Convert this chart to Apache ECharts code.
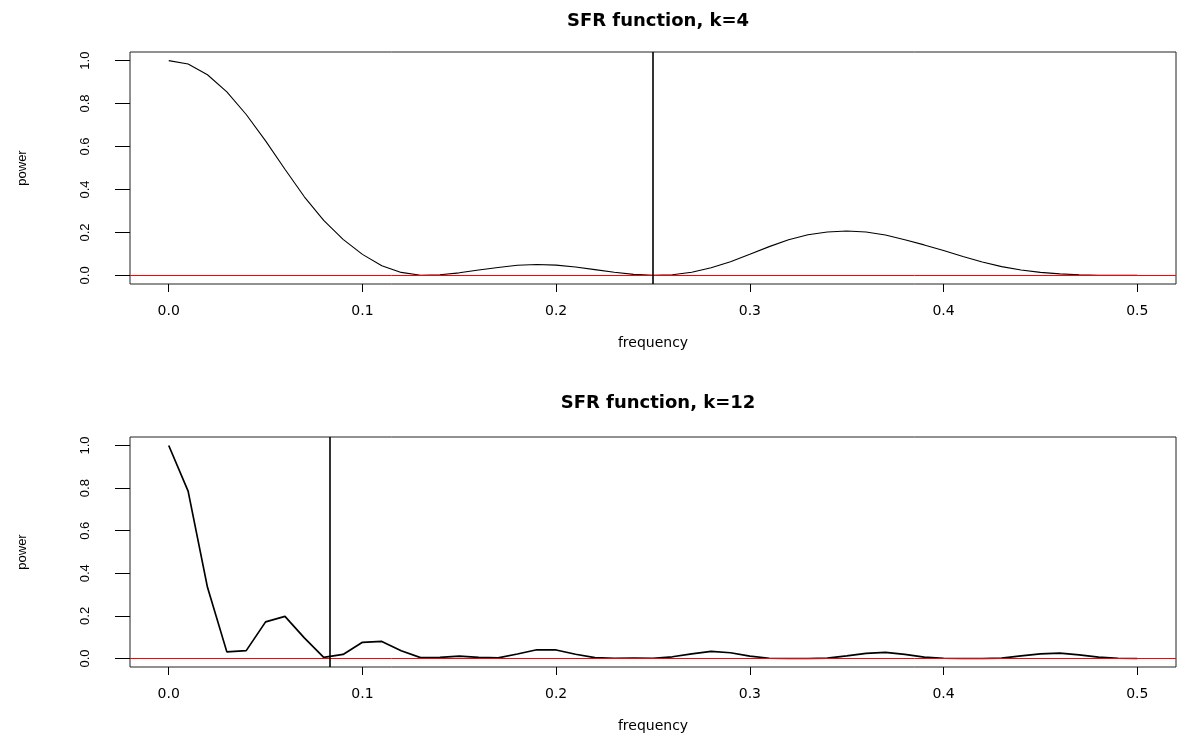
<!DOCTYPE html>
<html>
<head>
<meta charset="utf-8">
<title>SFR function</title>
<script src="https://cdn.jsdelivr.net/npm/echarts@6/dist/echarts.min.js"></script>
<style>
  html, body { margin: 0; padding: 0; background: #fff; }
  #chart { width: 1179px; height: 738px; }
</style>
</head>
<body>
<div id="chart"></div>
<script>
// frequencies 0 .. 0.5
const freq = [
  0.00, 0.01, 0.02, 0.03, 0.04, 0.05, 0.06, 0.07, 0.08, 0.09,
  0.10, 0.11, 0.12, 0.13, 0.14, 0.15, 0.16, 0.17, 0.18, 0.19,
  0.20, 0.21, 0.22, 0.23, 0.24, 0.25, 0.26, 0.27, 0.28, 0.29,
  0.30, 0.31, 0.32, 0.33, 0.34, 0.35, 0.36, 0.37, 0.38, 0.39,
  0.40, 0.41, 0.42, 0.43, 0.44, 0.45, 0.46, 0.47, 0.48, 0.49,
  0.50
];

// power, k=4
const powerK4 = [
  1.000, 0.984, 0.934, 0.854, 0.749, 0.626, 0.494, 0.366, 0.256, 0.168,
  0.098, 0.045, 0.014, 0.001, 0.003, 0.012, 0.025, 0.037, 0.047, 0.051,
  0.048, 0.039, 0.027, 0.015, 0.005, 0.000, 0.003, 0.015, 0.036, 0.064,
  0.098, 0.134, 0.166, 0.189, 0.202, 0.207, 0.202, 0.188, 0.166, 0.142,
  0.116, 0.088, 0.062, 0.041, 0.025, 0.014, 0.007, 0.003, 0.001, 0.000,
  0.000
];

// power, k=12
const powerK12 = [
  1.000, 0.786, 0.334, 0.031, 0.037, 0.172, 0.198, 0.097, 0.005, 0.019,
  0.076, 0.080, 0.036, 0.004, 0.005, 0.011, 0.005, 0.003, 0.021, 0.041,
  0.040, 0.020, 0.004, 0.001, 0.002, 0.001, 0.008, 0.022, 0.033, 0.027,
  0.011, 0.001, 0.000, 0.000, 0.002, 0.012, 0.024, 0.029, 0.019, 0.006,
  0.001, 0.000, 0.000, 0.002, 0.012, 0.022, 0.025, 0.017, 0.006, 0.001,
  0.000
];

// cut-off frequencies 1/k
const cutoffK4 = 0.25;
const cutoffK12 = 0.0833;

const xTicks = [0, 0.1, 0.2, 0.3, 0.4, 0.5];
const yTicks = [0, 0.2, 0.4, 0.6, 0.8, 1.0];
const titles = ["SFR function, k=4", "SFR function, k=12"];

const chart = echarts.init(document.getElementById("chart"));

function makeXAxis(gridIndex) {
  return {
    type: "value",
    gridIndex,
    min: -0.02,
    max: 0.52,
    name: "frequency",
    nameLocation: "middle",
    nameGap: 52,
    nameTextStyle: { color: "#000", fontFamily: "DejaVu Sans", fontSize: 14 },
    axisLine: { show: false, onZero: false },
    axisTick: {
      show: true,
      length: 8,
      customValues: xTicks,
      lineStyle: { color: "#000", width: 1 },
    },
    axisLabel: {
      customValues: xTicks,
      margin: 20,
      color: "#000",
      fontFamily: "DejaVu Sans",
      fontSize: 14,
      formatter: (v) => v.toFixed(1),
    },
    splitLine: { show: false },
  };
}

function makeYAxis(gridIndex) {
  return {
    type: "value",
    gridIndex,
    min: -0.04,
    max: 1.04,
    name: "power",
    nameLocation: "middle",
    nameRotate: 90,
    nameGap: 101,
    nameTextStyle: { color: "#000", fontFamily: "Liberation Sans", fontSize: 13 },
    axisLine: { show: false, onZero: false },
    axisTick: {
      show: true,
      length: 15,
      customValues: yTicks,
      lineStyle: { color: "#000", width: 1 },
    },
    axisLabel: {
      customValues: yTicks,
      rotate: 90,
      margin: 38,
      color: "#000",
      fontFamily: "Liberation Sans",
      fontSize: 13,
      formatter: (v) => v.toFixed(1),
    },
    splitLine: { show: false },
  };
}

function makeSeries(index, values, cutoff, width) {
  return {
    type: "line",
    xAxisIndex: index,
    yAxisIndex: index,
    data: freq.map((f, i) => [f, values[i]]),
    showSymbol: false,
    silent: true,
    z: 2,
    lineStyle: { color: "#000", width },
    markLine: {
      silent: true,
      symbol: "none",
      precision: 4,
      z: 5,
      label: { show: false },
      data: [
        { yAxis: 0, lineStyle: { color: "#ff0000", width: 1, type: "solid" } },
        { xAxis: cutoff, lineStyle: { color: "#000", width: 1.6, type: "solid" } },
      ],
    },
  };
}

chart.setOption({
  animation: false,
  backgroundColor: "#fff",
  title: titles.map((text, i) => ({
    text,
    left: 653,
    top: i === 0 ? 7 : 389,
    textAlign: "center",
    textStyle: { color: "#000", fontFamily: "DejaVu Sans", fontWeight: "bold", fontSize: 18 },
  })),
  grid: [
    { left: 130, right: 3, top: 52, height: 232, show: true, borderColor: "#222", borderWidth: 1 },
    { left: 130, right: 3, top: 437, height: 230, show: true, borderColor: "#222", borderWidth: 1 },
  ],
  xAxis: [makeXAxis(0), makeXAxis(1)],
  yAxis: [makeYAxis(0), makeYAxis(1)],
  series: [
    makeSeries(0, powerK4, cutoffK4, 1.1),
    makeSeries(1, powerK12, cutoffK12, 1.7),
  ],
});
</script>
</body>
</html>
